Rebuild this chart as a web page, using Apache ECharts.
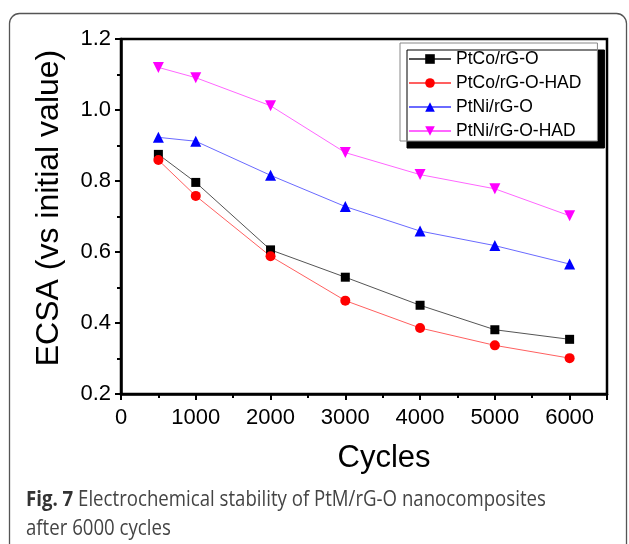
<!DOCTYPE html>
<html>
<head>
<meta charset="utf-8">
<script src="https://cdn.jsdelivr.net/npm/echarts@6/dist/echarts.min.js"></script>
<style>
  html, body { margin: 0; padding: 0; background: #fff; }
  #chart { width: 629px; height: 544px; }
</style>
</head>
<body>
<div id="chart"></div>
<script>
// values (ECSA relative to initial value)
const cycles = [500, 1000, 2000, 3000, 4000, 5000, 6000]
const ptco = [0.875, 0.796, 0.606, 0.529, 0.450, 0.381, 0.354]
const ptcoHad = [0.859, 0.758, 0.588, 0.463, 0.386, 0.337, 0.301]
const ptni = [0.923, 0.912, 0.816, 0.728, 0.659, 0.618, 0.566]
const ptniHad = [1.120, 1.091, 1.012, 0.880, 0.818, 0.778, 0.702]
const seriesNames = ['PtCo/rG-O', 'PtCo/rG-O-HAD', 'PtNi/rG-O', 'PtNi/rG-O-HAD']

const font = 'Liberation Sans, Arial, sans-serif'

function pairs(ys) {
  return cycles.map((c, i) => [c, ys[i]])
}

function line(name, ys, color, lineColor, symbol, size, rotate) {
  return {
    name: name,
    type: 'line',
    data: pairs(ys),
    symbol: symbol,
    symbolSize: size,
    symbolRotate: rotate || 0,
    showAllSymbol: true,
    animation: false,
    itemStyle: { color: color },
    lineStyle: { color: lineColor, width: 1 }
  }
}

const chart = echarts.init(document.getElementById('chart'))
chart.setOption({
  backgroundColor: '#fff',
  textStyle: { fontFamily: font },
  graphic: [
    {
      type: 'rect',
      shape: { x: 9.5, y: 13.5, width: 617, height: 600, r: 10 },
      style: { fill: 'none', stroke: '#555', lineWidth: 1.3 },
      z: 0
    },
    // axis titles
    {
      type: 'text',
      x: 49, y: 208, rotation: Math.PI / 2,
      style: {
        text: 'ECSA (vs initial value)', font: '32px "Liberation Sans"',
        fill: '#000', align: 'center', verticalAlign: 'middle'
      }
    },
    {
      type: 'text',
      x: 384, y: 458,
      style: {
        text: 'Cycles', font: '31px "Liberation Sans"',
        fill: '#000', align: 'center', verticalAlign: 'middle'
      }
    },
    // caption
    {
      type: 'text',
      x: 26, y: 490,
      scaleX: 0.887,
      style: {
        text: '{b|Fig. 7} Electrochemical stability of PtM/rG-O nanocomposites',
        rich: {
          b: { fontFamily: 'Open Sans', fontWeight: 'bold', fontSize: 21, fill: '#333' }
        },
        font: '21px "Open Sans"',
        fill: '#444'
      }
    },
    {
      type: 'text',
      x: 26, y: 519,
      scaleX: 0.887,
      style: { text: 'after 6000 cycles', font: '21px "Open Sans"', fill: '#444' }
    }
  ],
  grid: {
    left: 121, top: 39, right: 22, bottom: 150,
    show: true, borderColor: '#000', borderWidth: 2.5
  },
  legend: {
    orient: 'vertical',
    left: 400, top: 43,
    padding: [7, 16, 1, 8],
    itemWidth: 42, itemHeight: 12, itemGap: 6,
    backgroundColor: '#fff',
    borderColor: '#888', borderWidth: 1, borderRadius: 0,
    shadowColor: '#000', shadowBlur: 0, shadowOffsetX: 7, shadowOffsetY: 7,
    textStyle: { fontSize: 17.5, color: '#000', fontFamily: font },
    data: seriesNames
  },
  xAxis: {
    type: 'value',
    min: 0, max: 6500, interval: 1000,
    axisLine: { lineStyle: { color: '#000', width: 2.5 } },
    axisTick: { length: 6, lineStyle: { color: '#000', width: 2 } },
    minorTick: { show: true, splitNumber: 2, length: 4, lineStyle: { color: '#000', width: 2 } },
    splitLine: { show: false },
    axisLabel: {
      fontSize: 22, color: '#000', margin: 13,
      formatter: v => (v > 6000 ? '' : String(v))
    }
  },
  yAxis: {
    type: 'value',
    min: 0.2, max: 1.2, interval: 0.2,
    axisLine: { lineStyle: { color: '#000', width: 2.5 } },
    axisTick: { length: 6, lineStyle: { color: '#000', width: 2 } },
    minorTick: { show: true, splitNumber: 2, length: 4, lineStyle: { color: '#000', width: 2 } },
    splitLine: { show: false },
    axisLabel: {
      fontSize: 22, color: '#000', margin: 10,
      formatter: v => v.toFixed(1)
    }
  },
  series: [
    line(seriesNames[0], ptco, '#000', '#555', 'rect', 9),
    line(seriesNames[1], ptcoHad, '#ff0000', '#ff6060', 'circle', 10),
    line(seriesNames[2], ptni, '#0000ff', '#6a6aff', 'triangle', 11),
    line(seriesNames[3], ptniHad, '#ff00ff', '#ff66ff', 'triangle', 11, 180)
  ]
})
</script>
</body>
</html>
